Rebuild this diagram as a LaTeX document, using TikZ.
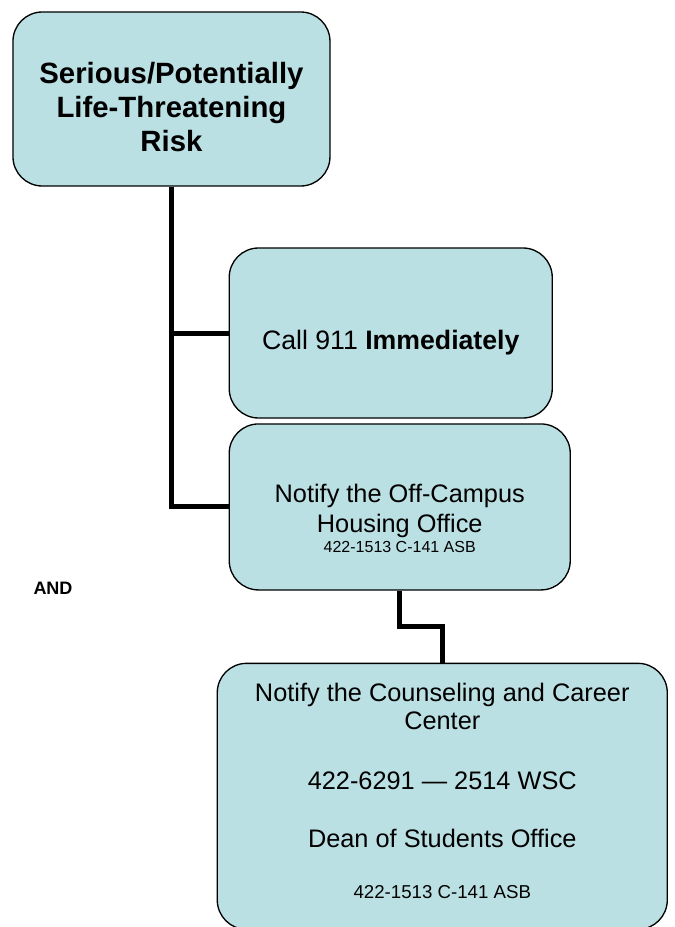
\documentclass[tikz,border=0pt]{standalone}
\usepackage{fontspec}
\setmainfont{Liberation Sans}
\usepackage{tikz}
\usetikzlibrary{shapes.geometric, arrows}
\definecolor{boxblue}{RGB}{187,224,227}
\tikzstyle{box} = [font=\fontsize{19}{22.5}\selectfont, rectangle, rounded corners=22pt, align=center, draw=black, line width=1pt, fill=boxblue, inner sep=0pt]
\tikzstyle{riskbox} = [box, font=\fontsize{22}{25.5}\selectfont\bfseries, minimum width=237.75pt, minimum height=130.5pt]
\tikzstyle{link} = [line width=3.75pt, line join=miter]
\newcommand{\lift}[1]{\rule{0pt}{#1}}

\begin{document}
\begin{tikzpicture}
  \useasboundingbox (0,0) rectangle (505.5pt,-695.25pt);
  \node (risk) [riskbox] at (128.6pt,-74.25pt) {\lift{28pt}Serious/Potentially\\
    Life-Threatening\\
    Risk};
  \node (call) [box, font=\fontsize{20}{23}\selectfont, right of=risk, xshift=136pt, yshift=-175.5pt, minimum width=242.25pt, minimum height=127.5pt]{\lift{29pt}Call 911 \textbf{Immediately}};
  \node (offcampus) [box, below of=call, xshift=6.75pt, yshift=-102pt, minimum width=255.75pt, minimum height=124.5pt]{\lift{31pt}Notify the Off-Campus\\
    Housing Office\\[-8pt]
    {\fontsize{12}{14}\selectfont 422-1513 C-141 ASB}};
  \node (counseling) [box, font=\fontsize{19}{21}\selectfont, below of=offcampus, xshift=31.9pt, yshift=-188.6pt, minimum width=337.5pt, minimum height=199.5pt]{Notify the Counseling and Career\\
    Center\\[24pt]
    422-6291 --- 2514 WSC\\[22.5pt]
    Dean of Students Office\\[17.75pt]
    {\fontsize{14}{16}\selectfont 422-1513 C-141 ASB}\rule[-8.5pt]{0pt}{1pt}};
  \node (and) [font=\fontsize{13.5}{16}\selectfont\bfseries] at (39.75pt,-441pt) {AND};
  \draw[link] (risk.south) |- (call.west);
  \draw[link] (risk.south) |- (offcampus.west);
  \draw[link] (offcampus.south) -- ++(0,-27pt) -| (counseling.north);
\end{tikzpicture}
\end{document}
